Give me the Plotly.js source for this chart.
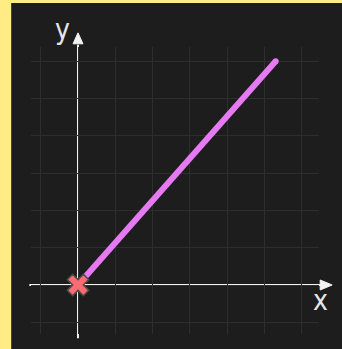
<!DOCTYPE html>
<html>
<head>
<meta charset="utf-8">
<script src="https://cdn.plot.ly/plotly-3.0.1.min.js"></script>
<style>
  html, body { margin: 0; padding: 0; background: #ffec85; width: 342px; height: 349px; overflow: hidden; }
  #chart { position: absolute; left: 11px; top: 3px; width: 331px; height: 346px; border-left: 1px solid #4a4628; box-sizing: border-box; }
</style>
</head>
<body>
<div id="chart"></div>
<script>
// Data
const lineX = [0, 5.3];
const lineY = [0, 6];
const axisLabels = ['x', 'y'];
const xRange = [-1.2601, 6.4611];
const yRange = [-1.3137, 6.3807];

const trace = {
  x: lineX,
  y: lineY,
  mode: 'lines+markers',
  type: 'scatter',
  cliponaxis: false,
  line: { color: '#e67af3', width: 6 },
  marker: {
    symbol: ['x', 'circle'],
    size: [19, 6],
    color: ['#ff6b73', '#e67af3'],
    opacity: 1,
    line: { color: ['#4a4a4a', '#e67af3'], width: [1.5, 0] }
  },
  hoverinfo: 'skip',
  showlegend: false
};

const axStyle = {
  dtick: 1,
  tick0: 0,
  showgrid: true,
  gridcolor: '#2e2e2e',
  gridwidth: 1,
  zeroline: false,
  showticklabels: false,
  ticks: '',
  showline: false,
  fixedrange: true
};

// convert data value to paper fraction
const px = v => (v - xRange[0]) / (xRange[1] - xRange[0]);
const py = v => (v - yRange[0]) / (yRange[1] - yRange[0]);
const labelFont = { family: 'DejaVu Sans Condensed, Liberation Sans Narrow, DejaVu Sans', size: 28, color: '#e6e6e6' };
const axisColor = '#f2f2f2';
const hw = 0.134; // arrowhead half-width in axis units

const shapes = [
  { type: 'line', xref: 'paper', yref: 'paper', layer: 'between',
    x0: px(-1.305), y0: py(0), x1: px(6.52), y1: py(0), line: { color: axisColor, width: 2 } },
  { type: 'line', xref: 'paper', yref: 'paper', layer: 'between',
    x0: px(0), y0: py(-1.43), x1: px(0), y1: py(6.44), line: { color: axisColor, width: 2 } },
  { type: 'path', xref: 'paper', yref: 'paper', layer: 'between',
    path: `M ${px(6.493)} ${py(-hw)} L ${px(6.814)} ${py(0)} L ${px(6.493)} ${py(hw)} Z`,
    fillcolor: axisColor, line: { color: axisColor, width: 1 } },
  { type: 'path', xref: 'paper', yref: 'paper', layer: 'between',
    path: `M ${px(-hw)} ${py(6.466)} L ${px(0)} ${py(6.76)} L ${px(hw)} ${py(6.466)} Z`,
    fillcolor: axisColor, line: { color: axisColor, width: 1 } }
];

const layout = {
  width: 330,
  height: 346,
  margin: { l: 19, r: 23, t: 44, b: 15 },
  paper_bgcolor: '#1d1d1d',
  plot_bgcolor: '#1d1d1d',
  xaxis: Object.assign({ range: xRange }, axStyle),
  yaxis: Object.assign({ range: yRange }, axStyle),
  shapes: shapes,
  annotations: [
    { x: px(6.49), y: py(-0.42), xref: 'paper', yref: 'paper', xanchor: 'center', yanchor: 'middle',
      text: axisLabels[0], showarrow: false, font: labelFont },
    { x: px(-0.42), y: py(6.84), xref: 'paper', yref: 'paper', xanchor: 'center', yanchor: 'middle',
      text: axisLabels[1], showarrow: false, font: labelFont }
  ]
};

Plotly.newPlot('chart', [trace], layout, { staticPlot: true, displayModeBar: false });
</script>
</body>
</html>
